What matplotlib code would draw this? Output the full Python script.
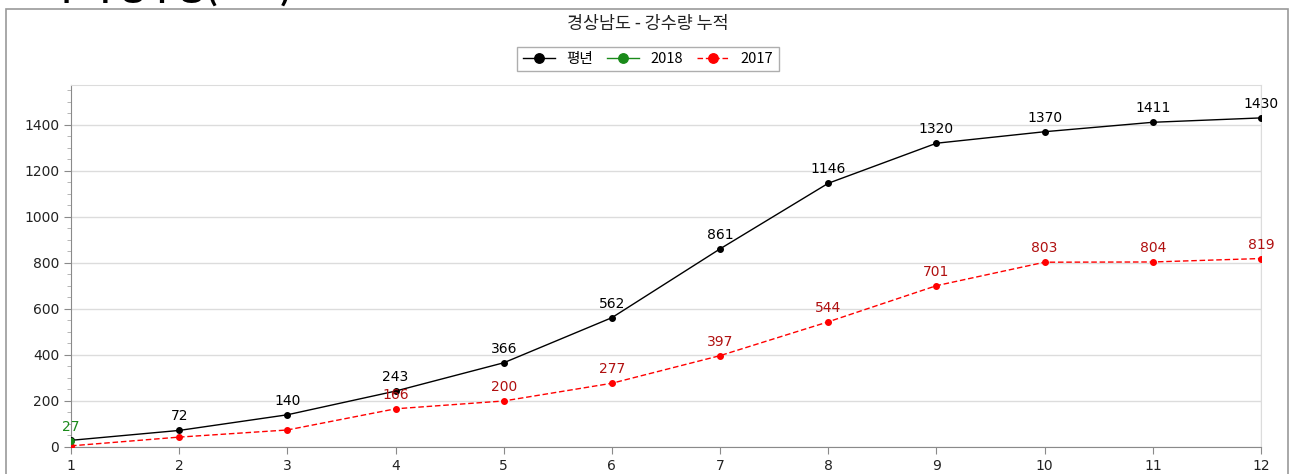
import matplotlib
matplotlib.use("Agg")
import matplotlib.pyplot as plt
from matplotlib.patches import Rectangle
from matplotlib.ticker import MultipleLocator

months = list(range(1, 13))
normal = [29, 72, 140, 243, 366, 562, 861, 1146, 1320, 1370, 1411, 1430]
y2018_months = [1]
y2018 = [27]
y2017 = [5, 43, 74, 166, 200, 277, 397, 544, 701, 803, 804, 819]
normal_label_from = 2   # first month whose value label is shown
y2017_label_from = 4

chart_title = "경상남도 - 강수량 누적"
page_title = "누적 강수량(mm)"
legend_names = ["평년", "2018", "2017"]

W, H = 1291, 474
fig = plt.figure(figsize=(W / 100, H / 100), dpi=100)
fig.patch.set_facecolor("white")

kfont = ["Noto Sans CJK KR", "DejaVu Sans"]

# outer frame
fig.patches.append(Rectangle((6 / W, -0.05), (1288 - 6) / W, 1 - 9 / H + 0.05,
                             transform=fig.transFigure, fill=False,
                             edgecolor="#9a9a9a", lw=1.2))
# cut-off page heading
fig.text(52 / W, 1 - 0.5 / H, page_title, family=kfont, fontsize=23,
         fontweight="bold", va="baseline", ha="left", color="black")

ax = fig.add_axes([71 / W, 1 - 447 / H, (1261 - 71) / W, (447 - 85) / H])
ax.plot(months, normal, color="black", lw=1, marker="o", ms=4, label=legend_names[0], zorder=3)
ax.plot(y2018_months, y2018, color="#1a8a1a", lw=1, marker="o", ms=4, label=legend_names[1], zorder=4)
ax.plot(months, y2017, color="#ff0000", lw=1, ls=(0, (4, 2)), marker="o", ms=4,
        label=legend_names[2], zorder=3)

for m, v in zip(months, normal):
    if m >= normal_label_from:
        ax.annotate(str(v), (m, v), xytext=(0, 5), textcoords="offset points",
                    ha="center", va="bottom", fontsize=10, color="black")
for m, v in zip(months, y2017):
    if m >= y2017_label_from:
        ax.annotate(str(v), (m, v), xytext=(0, 5), textcoords="offset points",
                    ha="center", va="bottom", fontsize=10, color="#b01010")
for m, v in zip(y2018_months, y2018):
    ax.annotate(str(v), (m, v), xytext=(0, 5), textcoords="offset points",
                ha="center", va="bottom", fontsize=10, color="#1a8a1a")

ax.set_xlim(1, 12)
ax.set_ylim(0, 1573)
ax.set_xticks(months)
ax.yaxis.set_major_locator(MultipleLocator(200))
ax.yaxis.set_minor_locator(MultipleLocator(50))
ax.grid(axis="y", which="major", color="#dcdcdc", lw=1)
ax.axvline(12, color="#e4e4e4", lw=1, zorder=0)
for s in ["top", "right"]:
    ax.spines[s].set_color("#dcdcdc")
for s in ["left", "bottom"]:
    ax.spines[s].set_color("#8a8a8a")
ax.tick_params(axis="both", which="major", length=5, color="#8a8a8a", labelsize=10,
               labelcolor="#222222", direction="out")
ax.tick_params(axis="y", which="minor", length=3, color="#aaaaaa")
ax.tick_params(axis="x", pad=4)
ax.set_axisbelow(True)

fig.text(648 / W, 1 - 23.5 / H, chart_title, family=kfont, fontsize=12.5, ha="center",
         va="center", color="#222222")

leg = fig.legend(loc="center", bbox_to_anchor=(648 / W, 1 - 59 / H), ncol=3,
                 prop={"family": kfont, "size": 10.5}, frameon=True, fancybox=False,
                 handlelength=2.2, handletextpad=0.8, columnspacing=0.95,
                 borderpad=0.35, edgecolor="#9a9a9a", markerscale=1.7)
leg.get_frame().set_linewidth(1)

fig.savefig("out.png", dpi=100)
